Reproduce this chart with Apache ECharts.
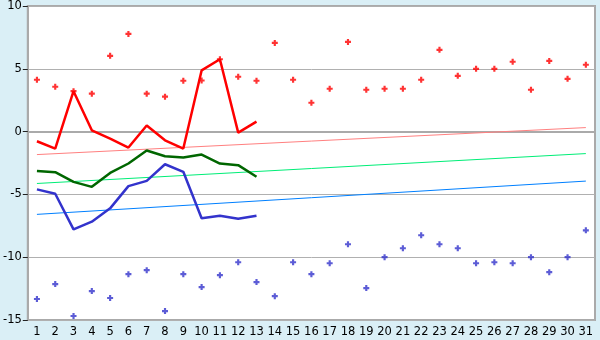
<!DOCTYPE html>
<html>
<head>
<meta charset="utf-8">
<script src="https://cdn.jsdelivr.net/npm/echarts@6/dist/echarts.min.js"></script>
<style>
html,body{margin:0;padding:0;background:#daeff6;}
#c{width:600px;height:340px;}
</style>
</head>
<body>
<div id="c"></div>
<script>
var categories = ['1','2','3','4','5','6','7','8','9','10','11','12','13','14','15','16','17','18','19','20','21','22','23','24','25','26','27','28','29','30','31'];
var yTicks = [-15, -10, -5, 0, 5, 10];

var redLine = [-0.77, -1.35, 3.22, 0.1, -0.56, -1.27, 0.48, -0.69, -1.35, 4.87, 5.76, -0.08, 0.79];
var greenLine = [-3.13, -3.23, -4.0, -4.4, -3.29, -2.54, -1.51, -1.96, -2.06, -1.83, -2.54, -2.67, -3.6];
var blueLine = [-4.6, -4.95, -7.78, -7.17, -6.11, -4.34, -3.92, -2.6, -3.2, -6.9, -6.7, -6.94, -6.7];

var redDots = [4.13, 3.57, 3.22, 3.02, 6.03, 7.78, 3.02, 2.78, 4.05, 4.07, 5.76, 4.37, 4.05, 7.06, 4.13, 2.30, 3.41, 7.14, 3.33, 3.41, 3.41, 4.13, 6.51, 4.44, 5.0, 5.0, 5.56, 3.33, 5.63, 4.2, 5.32];
var blueDots = [-13.33, -12.14, -14.68, -12.7, -13.25, -11.35, -11.03, -14.29, -11.35, -12.38, -11.43, -10.4, -11.98, -13.1, -10.4, -11.35, -10.48, -8.97, -12.46, -10.0, -9.29, -8.25, -8.97, -9.29, -10.48, -10.4, -10.48, -10.0, -11.19, -10.0, -7.86];

var redTrend = [-1.83, 0.32];
var greenTrend = [-4.13, -1.75];
var blueTrend = [-6.59, -3.94];

function trendData(ends) {
  var d = categories.map(function () { return null; });
  d[0] = ends[0];
  d[categories.length - 1] = ends[1];
  return d;
}

var plus = 'path://M1.6,0H3.4V1.6H5V3.4H3.4V5H1.6V3.4H0V1.6H1.6Z';

var chart = echarts.init(document.getElementById('c'), null, {renderer: 'canvas'});
chart.setOption({
  animation: false,
  backgroundColor: '#daeff6',
  grid: {left: 27, top: 5, right: 5, bottom: 20, show: true, backgroundColor: '#ffffff', borderColor: '#aaaaaa', borderWidth: 2},
  xAxis: {
    type: 'category', data: categories, boundaryGap: true,
    axisLine: {lineStyle: {color: '#aaaaaa', width: 2}},
    axisTick: {alignWithLabel: true, length: 5, lineStyle: {color: '#222'}},
    axisLabel: {color: '#000', fontFamily: 'DejaVu Sans', fontSize: 11.5, margin: 6, interval: 0},
    splitLine: {show: false}
  },
  yAxis: {
    type: 'value', min: yTicks[0], max: yTicks[yTicks.length - 1], interval: 5,
    axisLine: {show: true, lineStyle: {color: '#aaaaaa', width: 2}},
    axisTick: {show: true, length: 5, lineStyle: {color: '#222'}},
    axisLabel: {color: '#000', fontFamily: 'DejaVu Sans', fontSize: 11.5, margin: 6},
    splitLine: {lineStyle: {color: '#b0b0b0', width: 1}}
  },
  series: [
    {type: 'line', data: trendData(redTrend), connectNulls: true, symbol: 'none', lineStyle: {color: '#ff8080', width: 1}, z: 2},
    {type: 'line', data: trendData(greenTrend), connectNulls: true, symbol: 'none', lineStyle: {color: '#00ee77', width: 1}, z: 2},
    {type: 'line', data: trendData(blueTrend), connectNulls: true, symbol: 'none', lineStyle: {color: '#0080ff', width: 1}, z: 2},
    {type: 'line', data: greenLine, symbol: 'none', lineStyle: {color: '#006600', width: 2.5}, z: 3},
    {type: 'line', data: blueLine, symbol: 'none', lineStyle: {color: '#3333cc', width: 2.5}, z: 3},
    {type: 'line', data: redLine, symbol: 'none', lineStyle: {color: '#ff0000', width: 2.5}, z: 3},
    {type: 'scatter', data: redDots, symbol: plus, symbolSize: 6, itemStyle: {color: '#ff0000'}, z: 4},
    {type: 'scatter', data: blueDots, symbol: plus, symbolSize: 6, itemStyle: {color: '#3333cc'}, z: 4}
  ]
});
</script>
</body>
</html>
